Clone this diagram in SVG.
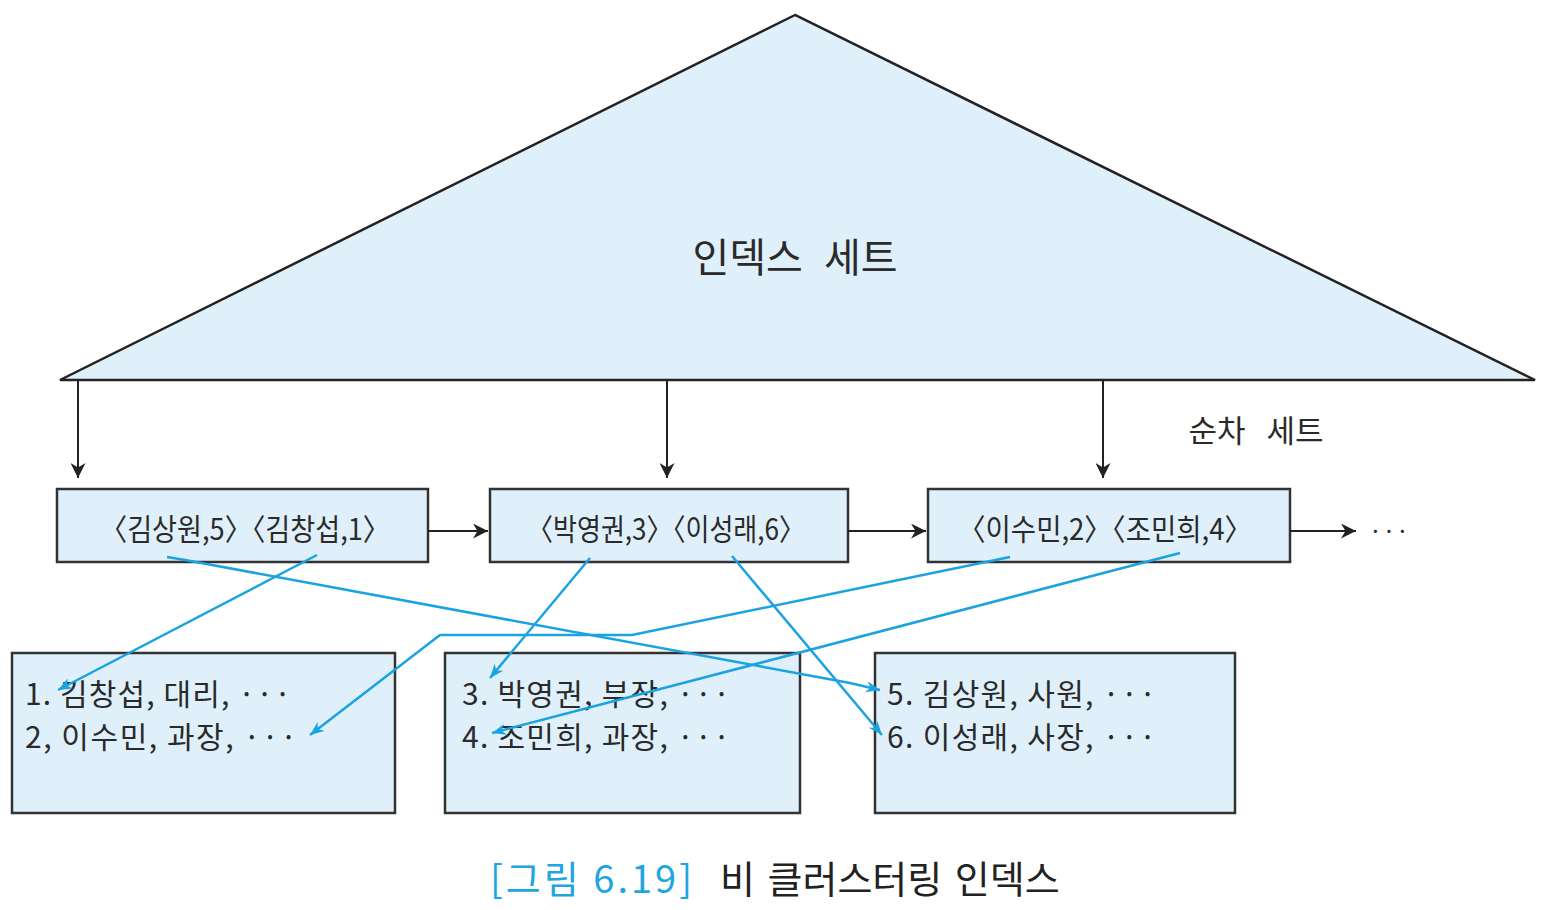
<svg xmlns="http://www.w3.org/2000/svg" width="1562" height="910" viewBox="0 0 1562 910">
<style>
.box{fill:#dff0fb;stroke:#333;stroke-width:2.5}
.tri{fill:#dff0fb;stroke:#222;stroke-width:2.5}
.t{font-family:"Noto Sans CJK KR","Noto Sans",sans-serif;fill:#2a2a2a}
.k{stroke:#222;stroke-width:2;fill:none}
.b{stroke:#1aa3e0;stroke-width:2.5;fill:none}
</style>
<defs>
<marker id="ah" viewBox="0 0 10 10" refX="10" refY="5" markerWidth="18" markerHeight="15" markerUnits="userSpaceOnUse" orient="auto"><path d="M0,0 L10,5 L0,10 L3,5 z" fill="#222"/></marker>
<marker id="ahb" viewBox="0 0 10 10" refX="10" refY="5" markerWidth="15" markerHeight="14" markerUnits="userSpaceOnUse" orient="auto"><path d="M0,1 L10,5 L0,9 L3,5 z" fill="#1aa3e0"/></marker>
</defs>
<g id="index-set">
<polygon class="tri" points="795,15 60,380 1535,380"/>
<text class="t" x="795" y="272" font-size="40" text-anchor="middle" word-spacing="12">인덱스 세트</text>
</g>
<text id="seq-label" class="t" x="1256" y="442" font-size="31" text-anchor="middle" word-spacing="14">순차 세트</text>
<g id="seq1"><rect class="box" x="57" y="489" width="371" height="73"/><text class="t" x="245" y="540" font-size="30" text-anchor="middle" textLength="290" lengthAdjust="spacingAndGlyphs">〈김상원,5〉〈김창섭,1〉</text></g>
<g id="seq2"><rect class="box" x="490" y="489" width="358" height="73"/><text class="t" x="666" y="540" font-size="30" text-anchor="middle" textLength="278" lengthAdjust="spacingAndGlyphs">〈박영권,3〉〈이성래,6〉</text></g>
<g id="seq3"><rect class="box" x="928" y="489" width="362" height="73"/><text class="t" x="1105" y="540" font-size="30" text-anchor="middle" textLength="294" lengthAdjust="spacingAndGlyphs">〈이수민,2〉〈조민희,4〉</text></g>
<text id="more" class="t" x="1389" y="540" font-size="24" text-anchor="middle">···</text>
<g id="data1"><rect class="box" x="12" y="653" width="383" height="160"/>
<text class="t" x="25" y="705" font-size="30" textLength="266">1. 김창섭, 대리, ···</text>
<text class="t" x="25" y="748" font-size="30" textLength="272">2, 이수민, 과장, ···</text></g>
<g id="data2"><rect class="box" x="445" y="653" width="355" height="160"/>
<text class="t" x="462" y="705" font-size="30" textLength="268">3. 박영권, 부장, ···</text>
<text class="t" x="462" y="748" font-size="30" textLength="268">4. 조민희, 과장, ···</text></g>
<g id="data3"><rect class="box" x="875" y="653" width="360" height="160"/>
<text class="t" x="887" y="705" font-size="30" textLength="269">5. 김상원, 사원, ···</text>
<text class="t" x="887" y="748" font-size="30" textLength="269">6. 이성래, 사장, ···</text></g>
<g id="connectors">
<line class="k" x1="78" y1="380" x2="78" y2="478" marker-end="url(#ah)"/>
<line class="k" x1="667" y1="380" x2="667" y2="478" marker-end="url(#ah)"/>
<line class="k" x1="1103" y1="380" x2="1103" y2="478" marker-end="url(#ah)"/>
<line class="k" x1="428" y1="531" x2="488" y2="531" marker-end="url(#ah)"/>
<line class="k" x1="848" y1="531" x2="926" y2="531" marker-end="url(#ah)"/>
<line class="k" x1="1290" y1="531" x2="1356" y2="531" marker-end="url(#ah)"/>
<polyline class="b" points="167,557 185,560 850,683 880,690" marker-end="url(#ahb)"/>
<line class="b" x1="317" y1="555" x2="58" y2="690" marker-end="url(#ahb)"/>
<line class="b" x1="590" y1="558" x2="490" y2="678" marker-end="url(#ahb)"/>
<line class="b" x1="732" y1="556" x2="882" y2="735" marker-end="url(#ahb)"/>
<polyline class="b" points="1010,557 632,635 440,635 310,735" marker-end="url(#ahb)"/>
<line class="b" x1="1180" y1="553" x2="492" y2="733" marker-end="url(#ahb)"/>
</g>
<g id="caption">
<text x="490" y="893" font-size="38" font-family="'Noto Sans CJK KR','Noto Sans',sans-serif" fill="#1ea6e2" textLength="202">[그림 6.19]</text>
<text x="720" y="893" font-size="38" font-family="'Noto Sans CJK KR','Noto Sans',sans-serif" fill="#222" word-spacing="4">비 클러스터링 인덱스</text>
</g>
</svg>
